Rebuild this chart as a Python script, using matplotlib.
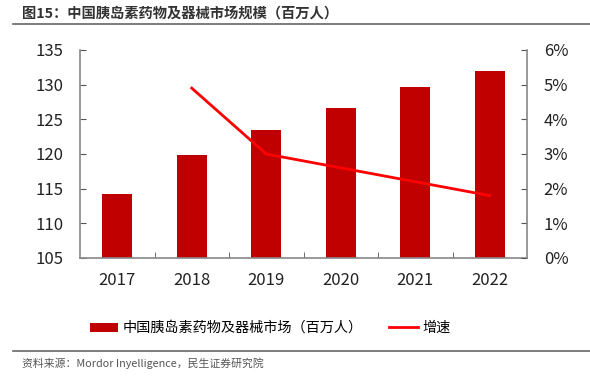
import matplotlib
matplotlib.use("Agg")
import matplotlib.pyplot as plt
from matplotlib.lines import Line2D
from matplotlib.ticker import FuncFormatter

plt.rcParams['font.family'] = ['Noto Sans CJK SC', 'DejaVu Sans']

years = ['2017', '2018', '2019', '2020', '2021', '2022']
market = [114.3, 119.9, 123.5, 126.7, 129.6, 131.9]
growth = [None, 4.9, 3.0, 2.6, 2.2, 1.8]

W, H = 590, 378
fig = plt.figure(figsize=(W / 100, H / 100), dpi=100)

ax = fig.add_axes([80 / W, (H - 258) / H, 447 / W, 208 / H])
x = list(range(len(years)))
bars = ax.bar(x, market, width=0.4, color='#C00000', bottom=0, zorder=2,
              label='中国胰岛素药物及器械市场（百万人）')
ax.set_ylim(105, 135)
ax.set_yticks(range(105, 136, 5))
ax.set_xlim(-0.5, 5.5)
ax.set_xticks(x)
ax.set_xticklabels(years)
ax.set_xticks([0.5, 1.5, 2.5, 3.5, 4.5], minor=True)
ax.tick_params(axis='x', which='major', length=0, pad=10, labelsize=12, colors='#222222')
ax.tick_params(axis='x', which='minor', length=4, direction='in', color='#555555')
ax.tick_params(axis='y', length=4, direction='in', labelsize=12, colors='#222222',
               color='#555555', pad=12)

ax2 = ax.twinx()
gx = [i for i, g in zip(x, growth) if g is not None]
gy = [g for g in growth if g is not None]
ax2.plot(gx, gy, color='#FF0000', lw=2, zorder=3, label='增速')
ax2.set_ylim(0, 6)
ax2.set_yticks(range(0, 7))
ax2.yaxis.set_major_formatter(FuncFormatter(lambda v, p: f'{int(v)}%'))
ax2.tick_params(axis='y', length=4, direction='in', labelsize=12, colors='#222222',
                color='#555555', pad=12)

for a in (ax, ax2):
    a.spines['top'].set_visible(False)
    for s in ('left', 'right', 'bottom'):
        a.spines[s].set_color('#888888')
        a.spines[s].set_linewidth(1.2)
ax.spines['right'].set_visible(False)
ax2.spines['left'].set_visible(False)
ax2.spines['bottom'].set_visible(False)

h1, l1 = ax.get_legend_handles_labels()
h2, l2 = ax2.get_legend_handles_labels()
fig.legend(h1 + h2, l1 + l2, loc='center', bbox_to_anchor=(270 / W, 1 - 328 / H),
           ncol=2, frameon=False, fontsize=10.2, handlelength=2.0, handleheight=0.6,
           handletextpad=0.3, columnspacing=1.9)

fig.text(22 / W, 1 - 14 / H, '图15：中国胰岛素药物及器械市场规模（百万人）',
         fontsize=10.3, fontweight='bold', color='#333333', va='center', ha='left')
fig.add_artist(Line2D([13 / W, 1], [1 - 23.5 / H] * 2, color='#666666', lw=1.2))
fig.add_artist(Line2D([13 / W, 1], [1 - 351 / H] * 2, color='#666666', lw=1.2))
fig.text(22 / W, 1 - 363 / H, '资料来源：Mordor Inyelligence，民生证券研究院',
         fontsize=7.8, color='#555555', va='center', ha='left')

fig.savefig('out.png', dpi=100)
